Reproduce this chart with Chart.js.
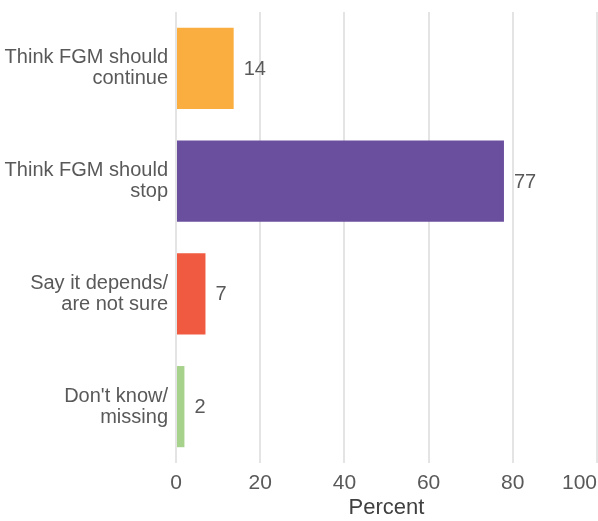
<!DOCTYPE html>
<html lang="en">
<head>
    <meta charset="UTF-8">
    <title>Views on FGM</title>
    <script src="https://cdn.jsdelivr.net/npm/chart.js"></script>
    <style>
        body {
            margin: 0;
            background-color: #fff;
        }
        .chart-container {
            position: relative;
            width: 598px;
            height: 521px;
        }
    </style>
</head>
<body>
    <div class="chart-container">
        <canvas id="fgmChart"></canvas>
    </div>

    <script>
        // data
        const categories = [
            ['Think FGM should', 'continue'],
            ['Think FGM should', 'stop'],
            ['Say it depends/', 'are not sure'],
            ["Don't know/", 'missing']
        ];
        const percents = [13.7, 77.9, 7.0, 2.0];
        const valueLabels = ['14', '77', '7', '2'];
        const barColors = ['#FAAE40', '#6A4F9E', '#F05A41', '#A6D28B'];
        const xTicks = [0, 20, 40, 60, 80, 100];

        const fontFamily = "'Liberation Sans', Arial, sans-serif";
        const labelColor = '#595959';

        // bar value labels, just right of each bar
        const valueLabelPlugin = {
            id: 'valueLabels',
            afterDatasetsDraw(chart) {
                const ctx = chart.ctx;
                const meta = chart.getDatasetMeta(0);
                ctx.save();
                ctx.font = '20px ' + fontFamily;
                ctx.fillStyle = labelColor;
                ctx.textAlign = 'left';
                ctx.textBaseline = 'middle';
                meta.data.forEach((bar, i) => {
                    ctx.fillText(valueLabels[i], bar.x + 10, bar.y + 1);
                });
                ctx.restore();
            }
        };

        // x tick labels; last one is kept inside the canvas
        const xTickPlugin = {
            id: 'xTickLabels',
            afterDraw(chart) {
                const ctx = chart.ctx;
                const xScale = chart.scales.x;
                const y = chart.chartArea.bottom + 20;
                ctx.save();
                ctx.font = '21px ' + fontFamily;
                ctx.fillStyle = labelColor;
                ctx.textBaseline = 'middle';
                ctx.textAlign = 'center';
                xTicks.forEach(v => {
                    const text = String(v);
                    const w = ctx.measureText(text).width;
                    let x = xScale.getPixelForValue(v);
                    x = Math.min(x, chart.width - 1 - w / 2);
                    ctx.fillText(text, x, y);
                });
                ctx.restore();
            }
        };

        const ctx = document.getElementById('fgmChart').getContext('2d');
        new Chart(ctx, {
            type: 'bar',
            data: {
                labels: categories,
                datasets: [{
                    data: percents,
                    backgroundColor: barColors,
                    borderWidth: 0,
                    barPercentage: 0.72,
                    categoryPercentage: 1
                }]
            },
            options: {
                indexAxis: 'y',
                responsive: true,
                maintainAspectRatio: false,
                animation: false,
                layout: {
                    padding: { top: 12, right: 1, left: 0, bottom: 0 }
                },
                plugins: {
                    legend: { display: false },
                    tooltip: { enabled: false }
                },
                scales: {
                    x: {
                        min: 0,
                        max: 100,
                        afterBuildTicks: s => { s.ticks = xTicks.map(v => ({ value: v })); },
                        afterFit: s => { s.height = 58; },
                        grid: {
                            color: '#e4e4e4',
                            lineWidth: 2,
                            drawTicks: false
                        },
                        border: { display: false },
                        ticks: { display: false },
                        title: {
                            display: true,
                            text: 'Percent',
                            color: '#404040',
                            font: { family: fontFamily, size: 22 },
                            padding: { top: 0, bottom: 0 }
                        }
                    },
                    y: {
                        afterFit: s => {
                            s.width = 176;
                            s.paddingTop = 0;
                            s.paddingBottom = 0;
                        },
                        grid: { display: false, drawTicks: false },
                        border: { display: false },
                        ticks: {
                            color: labelColor,
                            padding: 8,
                            font: { family: fontFamily, size: 20, lineHeight: 1.05 }
                        }
                    }
                }
            },
            plugins: [valueLabelPlugin, xTickPlugin]
        });
    </script>
</body>
</html>
